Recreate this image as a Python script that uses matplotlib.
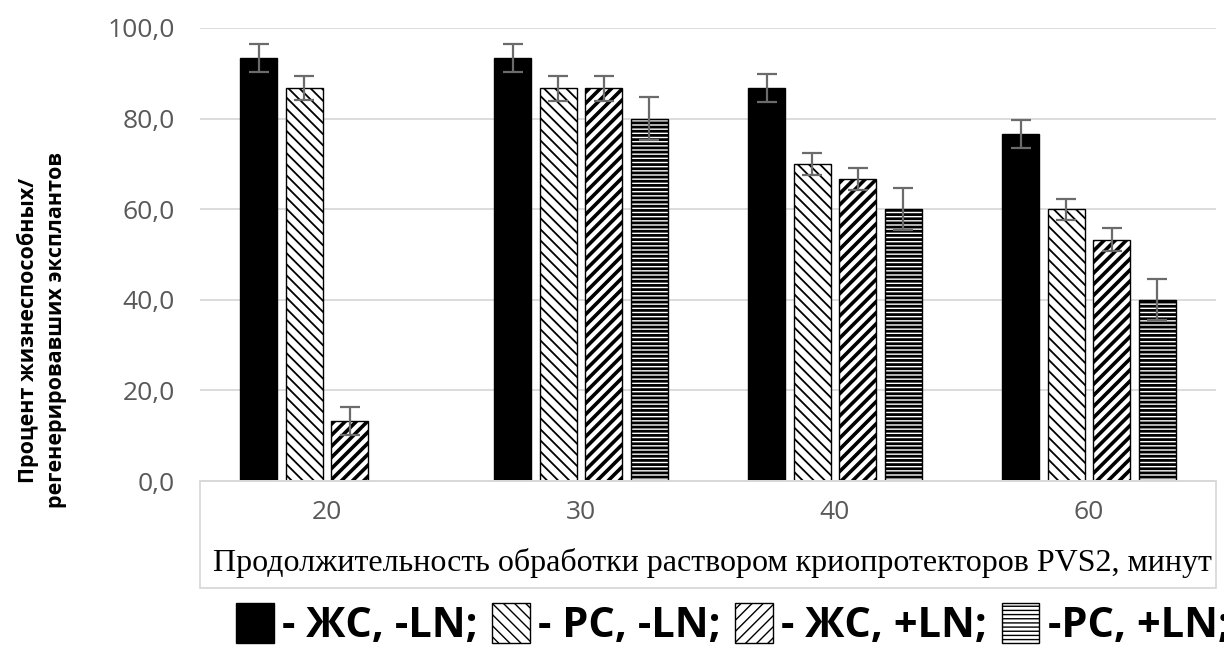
import numpy as np
import matplotlib.pyplot as plt
from matplotlib.patches import Rectangle
from matplotlib.ticker import FuncFormatter

# данные: процент жизнеспособных / регенерировавших эксплантов
minutes = ['20', '30', '40', '60']
zhs_minus_ln = [93.3, 93.3, 86.7, 76.7]
rs_minus_ln = [86.7, 86.7, 70.0, 60.0]
zhs_plus_ln = [13.3, 86.7, 66.7, 53.3]
rs_plus_ln = [np.nan, 80.0, 60.0, 40.0]

err_zhs_minus_ln = [3.1, 3.1, 3.1, 3.1]
err_rs_minus_ln = [2.7, 2.8, 2.5, 2.3]
err_zhs_plus_ln = [3.1, 2.8, 2.5, 2.5]
err_rs_plus_ln = [np.nan, 4.8, 4.6, 4.5]

legend_labels = ['- ЖС, -LN;', '- РС, -LN;', '- ЖС, +LN;', '-РС, +LN;']

series = [zhs_minus_ln, rs_minus_ln, zhs_plus_ln, rs_plus_ln]
errors = [err_zhs_minus_ln, err_rs_minus_ln, err_zhs_plus_ln, err_rs_plus_ln]
styles = [
    dict(facecolor='black', hatch=None, hlw=1.0),
    dict(facecolor='white', hatch='\\\\\\', hlw=1.3),
    dict(facecolor='white', hatch='///', hlw=2.6),
    dict(facecolor='white', hatch='----', hlw=2.0),
]

plt.rcParams['font.family'] = ['Open Sans', 'DejaVu Sans']

W, H = 1224, 653
fig = plt.figure(figsize=(W / 100, H / 100), dpi=100)
ax = fig.add_axes([200 / W, 1 - 481 / H, 1016 / W, (481 - 28) / H])

x = np.arange(len(minutes))
width = 0.146
step = 0.179
offsets = (np.arange(4) - 1.5) * step

handles = []
for vals, errs, st, off in zip(series, errors, styles, offsets):
    bars = ax.bar(x + off, vals, width, color=st['facecolor'], edgecolor='black',
                  linewidth=1.0, hatch=st['hatch'], zorder=2)
    for b in bars:
        if hasattr(b, 'set_hatch_linewidth'):
            b.set_hatch_linewidth(st['hlw'])
    ax.errorbar(x + off, vals, yerr=errs, fmt='none', ecolor='#6b6b6b',
                elinewidth=1.6, capsize=7, capthick=1.6, zorder=3)
    h = Rectangle((0, 0), 1, 1, facecolor=st['facecolor'], edgecolor='black',
                  linewidth=1.0, hatch=st['hatch'])
    if hasattr(h, 'set_hatch_linewidth'):
        h.set_hatch_linewidth(st['hlw'])
    handles.append(h)

ax.set_xlim(-0.5, 3.5)
ax.set_ylim(0, 100)
ax.set_yticks(np.arange(0, 101, 20))
ax.yaxis.set_major_formatter(FuncFormatter(lambda v, p: f'{v:.1f}'.replace('.', ',')))
ax.set_xticks(x)
ax.set_xticklabels(minutes)
ax.tick_params(axis='both', length=0, labelsize=19, labelcolor='#595959')
ax.tick_params(axis='y', pad=18)
ax.tick_params(axis='x', pad=14)
ax.grid(axis='y', color='#d9d9d9', linewidth=1.3, zorder=0)
for s in ['top', 'right', 'left']:
    ax.spines[s].set_visible(False)
ax.spines['bottom'].set_color('#d9d9d9')
ax.spines['bottom'].set_linewidth(1.3)

# рамка под осью с подписью
fig.add_artist(Rectangle((200 / W, 1 - 588 / H), 1016 / W, (588 - 481) / H,
                         transform=fig.transFigure, fill=False,
                         edgecolor='#d9d9d9', linewidth=1.3))

fig.text(712 / W, 1 - 563 / H,
         'Продолжительность обработки раствором криопротекторов PVS2, минут',
         family='Liberation Serif', fontsize=23, ha='center', va='center')

fig.text(42 / W, 1 - 330 / H, 'Процент жизнеспособных/\nрегенерировавших эксплантов',
         rotation=90, fontsize=15.5, fontweight='bold', ha='center', va='center',
         linespacing=1.4)

fig.legend(handles, legend_labels, loc='upper left',
           bbox_to_anchor=(236 / W, 1 - 603 / H), ncol=4, frameon=False,
           prop=dict(family=['Open Sans', 'DejaVu Sans'], weight='bold', size=30),
           handlelength=0.9, handleheight=1.1, handletextpad=0.2,
           columnspacing=0.35, borderpad=0, borderaxespad=0)

fig.savefig('out.png', dpi=100)
